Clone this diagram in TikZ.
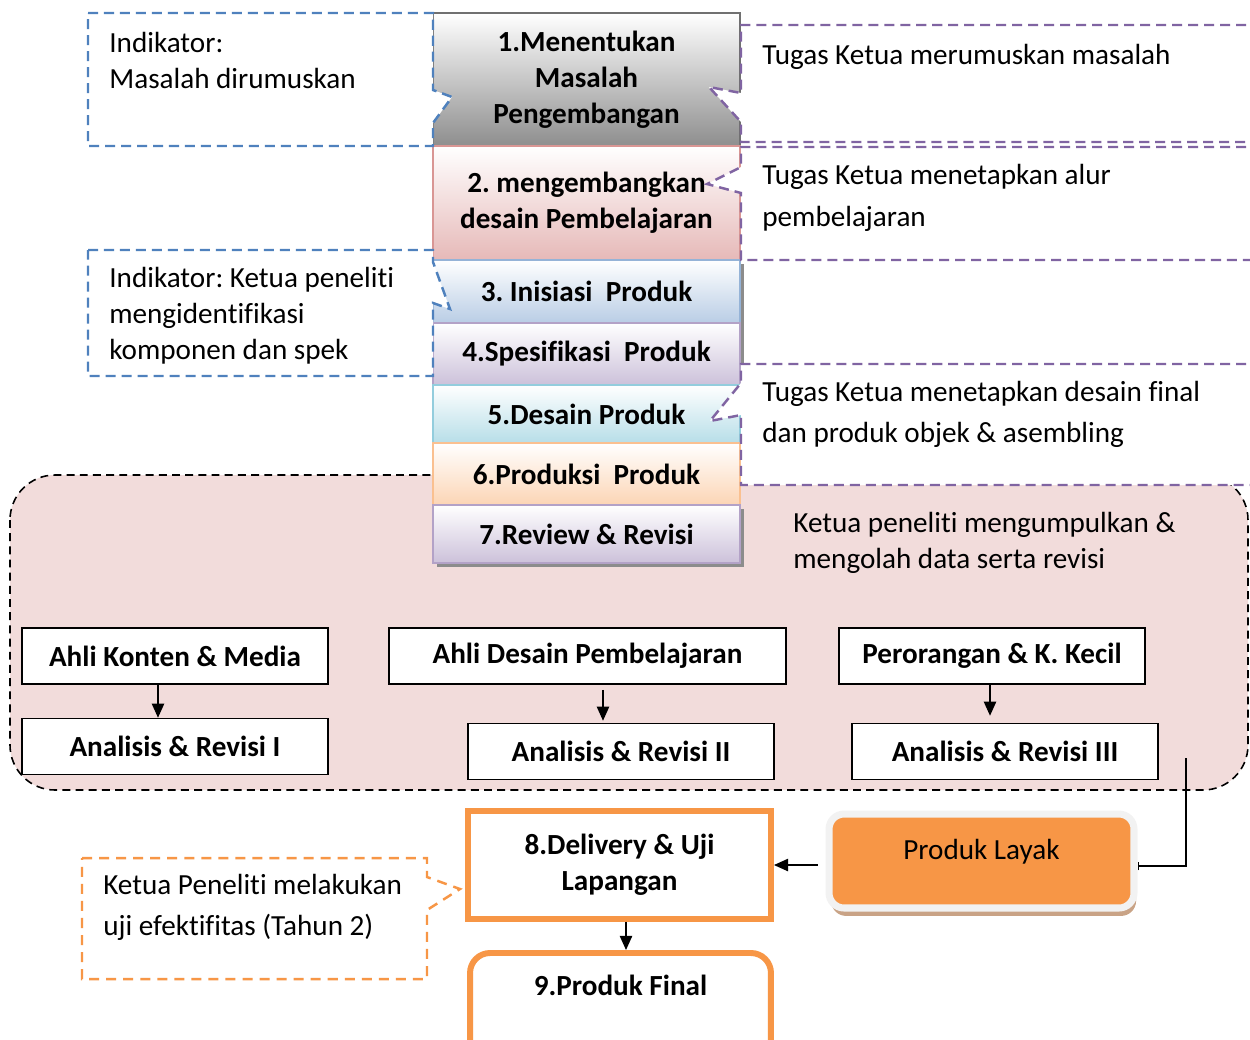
\documentclass[tikz,border=0pt]{standalone}
\usepackage{fontspec}
\setmainfont{Carlito}[Ligatures=NoCommon]
\usetikzlibrary{positioning,arrows.meta,shadows}
\definecolor{cblue}{HTML}{4F81BD}
\definecolor{cpurple}{HTML}{8064A2}
\definecolor{corange}{HTML}{F79646}
\definecolor{pinkbg}{HTML}{F2DCDB}
\definecolor{greyline}{HTML}{707070}
\definecolor{greyfill}{HTML}{8E8E8E}
\definecolor{pinkline}{HTML}{D99694}
\definecolor{pinkfill}{HTML}{E6B9B8}
\definecolor{blueline}{HTML}{95B3D7}
\definecolor{bluefill}{HTML}{B9CDE5}
\definecolor{lilacline}{HTML}{B3A2C7}
\definecolor{lilacfill}{HTML}{CCC1DA}
\definecolor{aqualine}{HTML}{93CDDD}
\definecolor{aquafill}{HTML}{B7DEE8}
\definecolor{peachline}{HTML}{FAC090}
\definecolor{peachfill}{HTML}{FCD5B5}
\definecolor{rimgrey}{HTML}{F2F2F2}
\definecolor{shadebrown}{HTML}{C9A386}
\frenchspacing
\begin{document}
\begin{tikzpicture}[x=0.02cm, y=-0.02cm,
  txt/.style={font=\fontsize{16.6}{20.5}\selectfont},
  stepbox/.style={font=\fontsize{16.6}{20.5}\selectfont\bfseries, draw, line width=1.1pt,
    outer sep=0pt, inner sep=0pt, minimum width=6.14cm, align=center},
  stepfill/.style 2 args={top color=white, bottom color=#1, draw=#2},
  stepshadow/.style={drop shadow={shadow xshift=2.2pt, shadow yshift=-2.2pt, fill=black!45, opacity=1}},
  notebase/.style={dash pattern=on 5.7pt off 3.4pt, line width=1.4pt, fill=white},
  noteblue/.style={notebase, draw=cblue},
  notepurple/.style={notebase, draw=cpurple},
  noteorange/.style={notebase, draw=corange, dash pattern=on 5.7pt off 4pt},
  notetext/.style={txt, align=left, anchor=west, inner sep=0pt},
  widetext/.style={notetext, font=\fontsize{16.6}{23.6}\selectfont},
  evalbox/.style={draw, line width=0.9pt, fill=white, font=\fontsize{16.6}{20.5}\selectfont\bfseries,
    minimum width=6.12cm, minimum height=1.12cm},
  finbox/.style={draw=corange, line width=3.4pt, fill=white, align=center,
    font=\fontsize{16.6}{20.5}\selectfont\bfseries},
  layakbox/.style={txt, fill=corange, draw=rimgrey, line width=4pt, rounded corners=0.3cm,
    minimum width=6.1cm, minimum height=1.88cm, text depth=0.46cm,
    drop shadow={shadow xshift=1.2pt, shadow yshift=-4.5pt, fill=shadebrown, opacity=1}},
  flow/.style={-{Triangle[width=7pt,length=8pt]}, line width=0.8pt}
]
\useasboundingbox (0,0) rectangle (1250,1039);
\clip (0,0) rectangle (1250,1039);

% review area
\draw[black, dash pattern=on 4.5pt off 3pt, line width=0.9pt, fill=pinkbg, rounded corners=0.9cm]
  (10,475) rectangle (1248,790);
\node[notetext] (kumpul) at (793,543) {Ketua peneliti mengumpulkan \&\\mengolah data serta revisi};

% development steps
\node[stepbox, stepfill={greyfill}{greyline}, minimum height=2.66cm] (s1) at (586.5,79.5)
  {1.Menentukan\\Masalah\\Pengembangan};
\node[stepbox, stepfill={pinkfill}{pinkline}, minimum height=2.28cm, below=0pt of s1] (s2)
  {2. mengembangkan\\desain Pembelajaran};
\node[stepbox, stepfill={bluefill}{blueline}, stepshadow, minimum height=1.26cm, below=0pt of s2] (s3)
  {3. Inisiasi\ \ Produk};
\node[stepbox, stepfill={lilacfill}{lilacline}, stepshadow, minimum height=1.24cm, below=0pt of s3] (s4)
  {4.Spesifikasi\ \ Produk};
\node[stepbox, stepfill={aquafill}{aqualine}, minimum height=1.16cm, below=0pt of s4] (s5)
  {5.Desain Produk};
\node[stepbox, stepfill={peachfill}{peachline}, minimum height=1.24cm, below=0pt of s5] (s6)
  {6.Produksi\ \ Produk};
\node[stepbox, stepfill={lilacfill}{lilacline}, stepshadow, minimum height=1.16cm, below=0pt of s6] (s7)
  {7.Review \& Revisi};

% indicators (left)
\draw[noteblue] (88,13) -- (433,13) -- (433,90) -- (452,97) -- (433,123) -- (433,146) -- (88,146) -- cycle;
\node[notetext] (indA) at (109,60) {Indikator:\\Masalah dirumuskan};
\draw[noteblue] (88,250) -- (433,250) -- (433,262) -- (450,309) -- (433,303) -- (433,376) -- (88,376) -- cycle;
\node[notetext] (indB) at (109,316) {Indikator: Ketua peneliti\\mengidentifikasi\\komponen dan spek};

% tasks (right)
\draw[notepurple] (1262,25) -- (741,25) -- (741,93) -- (709,87) -- (741,122) -- (741,142) -- (1262,142) -- cycle;
\node[notetext] (tugasA) at (762,57) {Tugas Ketua merumuskan masalah};
\draw[notepurple] (1262,147) -- (741,147) -- (741,167) -- (707,184) -- (741,193) -- (741,260) -- (1262,260) -- cycle;
\node[widetext] (tugasB) at (762,198) {Tugas Ketua menetapkan alur\\pembelajaran};
\draw[notepurple] (1262,364) -- (741,364) -- (741,383) -- (710,421) -- (741,415) -- (741,485) -- (1262,485) -- cycle;
\node[widetext] (tugasC) at (762,414.5) {Tugas Ketua menetapkan desain final\\dan produk objek \& asembling};

% expert reviews
\node[evalbox] (ahliK) at (175,656) {Ahli Konten \& Media};
\node[evalbox] (revI) at (175,746.5) {Analisis \& Revisi I};
\node[evalbox, minimum width=7.94cm] (ahliD) at (587.5,656) {Ahli Desain Pembelajaran};
\node[evalbox] (revII) at (621,751.5) {Analisis \& Revisi II};
\node[evalbox] (pero) at (992,656) {Perorangan \& K. Kecil};
\node[evalbox] (revIII) at (1005,751.5) {Analisis \& Revisi III};

\draw[flow] ([xshift=-0.34cm]ahliK.south) -- ([xshift=-0.34cm]revI.north);
\draw[flow] ([xshift=0.31cm,yshift=-0.1cm]ahliD.south) -- ([xshift=0.31cm,yshift=0.04cm]ahliD.south |- revII.north);
\draw[flow] ([xshift=-0.04cm]pero.south) -- ([xshift=-0.04cm,yshift=0.14cm]pero.south |- revIII.north);

% final stages
\node[finbox, minimum width=6.06cm, minimum height=2.16cm] (deliv) at (619.5,865) {8.Delivery \& Uji\\Lapangan};
\node[finbox, rounded corners=0.4cm, minimum width=6.02cm, anchor=north, inner ysep=0.45cm, text depth=1.2cm]
  (final) at (620.5,950) {9.Produk Final};
\node[layakbox] (layak) at (981.5,861) {Produk Layak};

\coordinate (revOut) at (1186,758);
\draw[line width=0.9pt, -{Bar[width=5pt]}] (revOut) |- ([yshift=-0.1cm]layak.east);
\draw[flow, shorten <=0.16cm] (deliv.east -| layak.west) -- (deliv.east);
\draw[flow] ([xshift=0.13cm]deliv.south) -- ([xshift=0.13cm]deliv.south |- final.north);

% field test note
\draw[noteorange] (82,858) -- (427,858) -- (427,877) -- (460,889) -- (427,910) -- (427,979) -- (82,979) -- cycle;
\node[widetext] (ujiNote) at (103,907.5) {Ketua Peneliti melakukan\\uji efektifitas (Tahun 2)};
\end{tikzpicture}
\end{document}
